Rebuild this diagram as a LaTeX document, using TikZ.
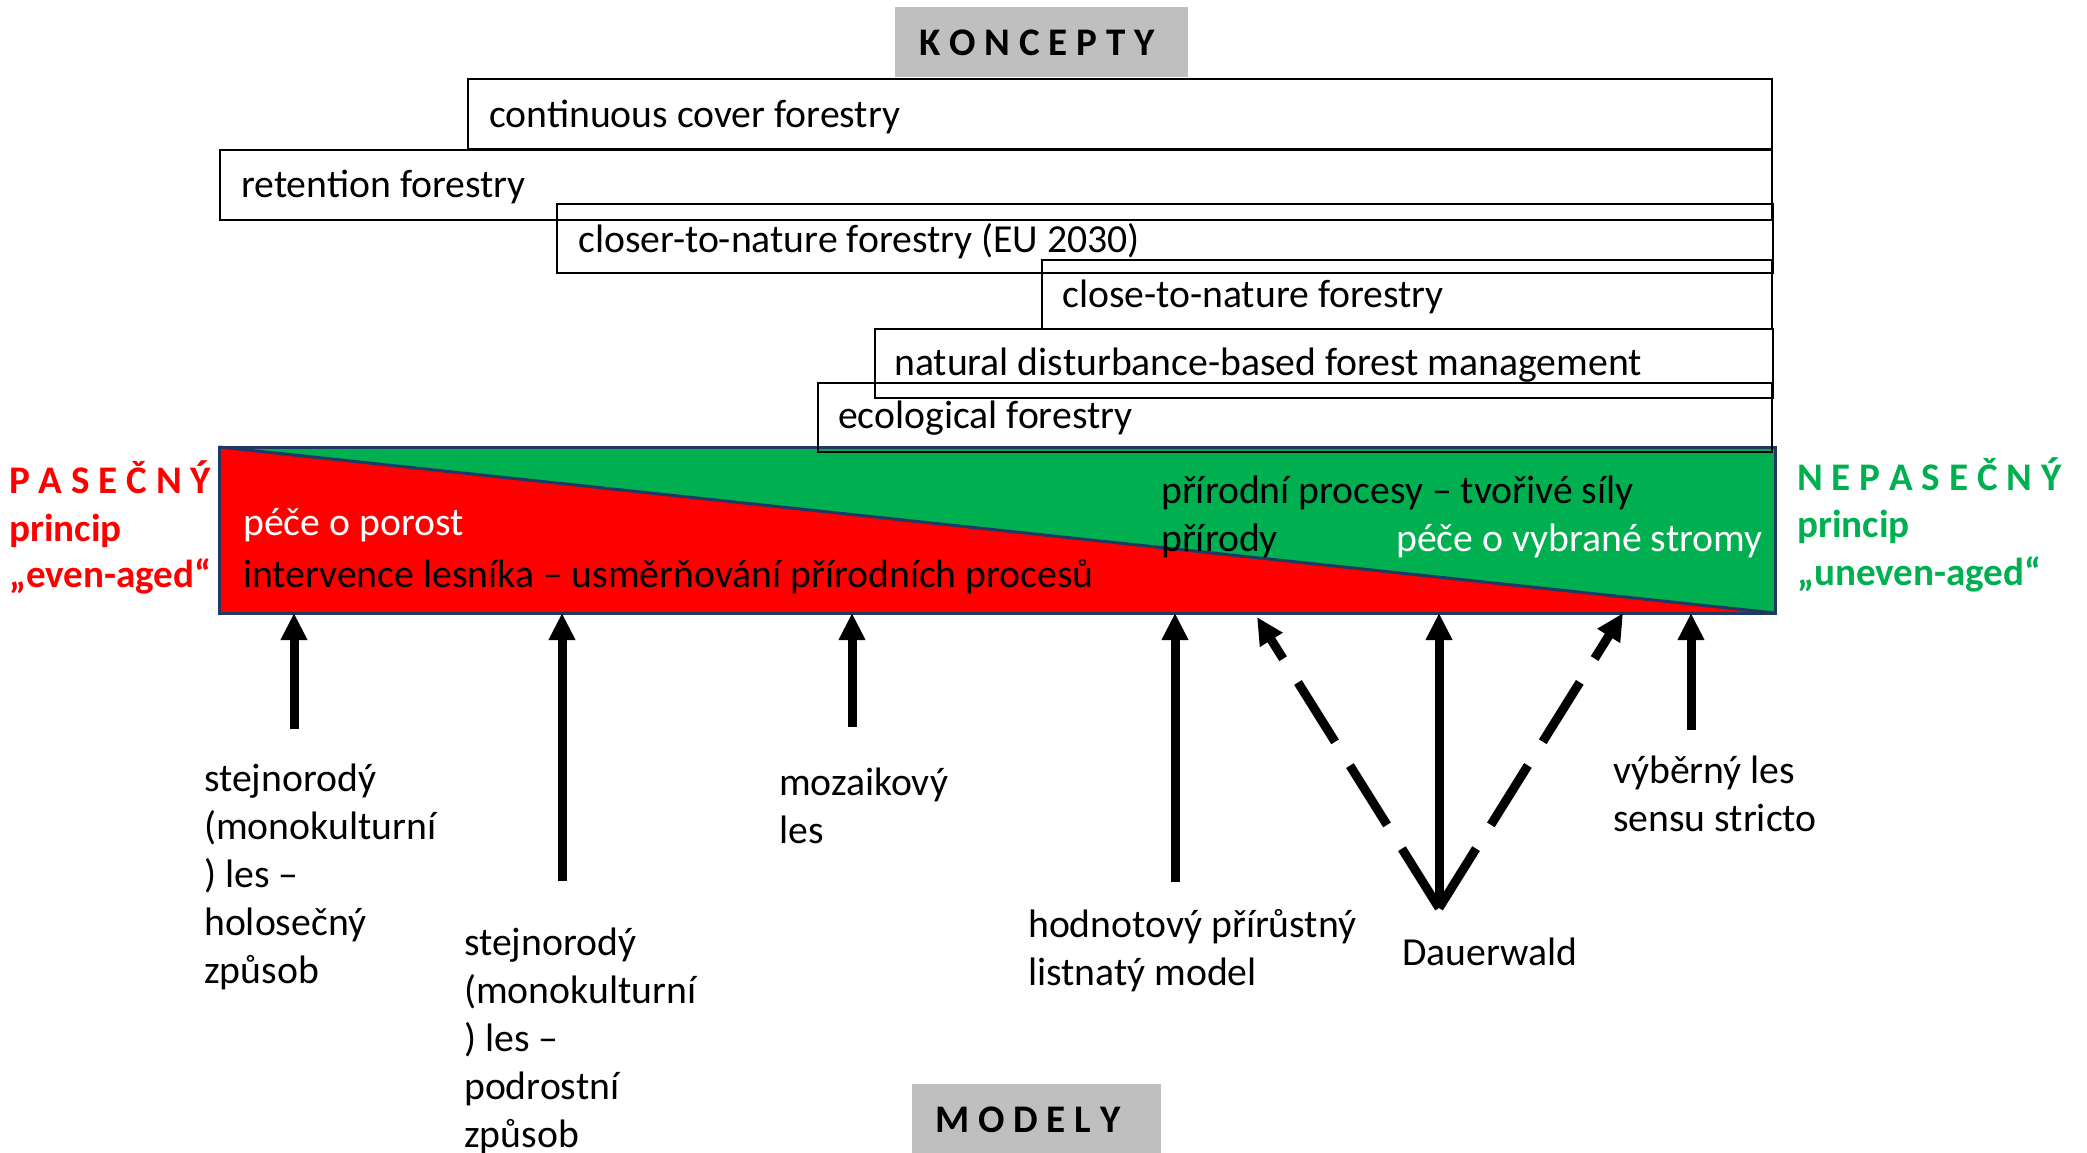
\documentclass[tikz,border=0pt]{standalone}
\usepackage{fontspec}
\setmainfont{Carlito}
\usetikzlibrary{arrows.meta}
\definecolor{cutred}{HTML}{FF0000}
\definecolor{covergreen}{HTML}{00B050}
\definecolor{bandnavy}{HTML}{1F3864}
\definecolor{headgray}{HTML}{BFBFBF}
% left-aligned lines whose baseline is the first line's
\newcommand{\linesleft}[1]{\vtop{\halign{##\hfil\cr#1\crcr}}}
\begin{document}
\begin{tikzpicture}[x=1pt,y=-1pt,
  txt/.style={inner sep=0pt, anchor=base west, font=\fontsize{39.7}{48}\selectfont},
  head/.style={txt, font=\fontsize{39.1}{48}\selectfont\bfseries},
  cbox/.style={draw=black, line width=2.5pt, anchor=north west, inner sep=0pt, outer sep=0pt},
  graybox/.style={fill=headgray, anchor=north west, inner sep=0pt, outer sep=0pt},
  model/.style={line width=9pt, -{Triangle[length=27pt,width=25pt]}},
  modeldash/.style={model, dash pattern=on 70pt off 28pt},
]
\useasboundingbox (0,0) rectangle (2087,1152);

% headings
\node[graybox, minimum width=293pt, minimum height=70pt] (konbox) at (895,7) {};
\node[head] (kon) at (919,55) {K O N C E P T Y};
\node[graybox, minimum width=249pt, minimum height=80pt] (modbox) at (912,1084) {};
\node[head] (mod) at (935,1132) {M O D E L Y};

% gradient band: clear-cut (red) to continuous cover (green)
\node[minimum width=1556pt, minimum height=166pt, anchor=north west, inner sep=0pt, outer sep=0pt] (band) at (219,447) {};
\fill[cutred] (band.north west) -- (band.south east) -- (band.south west) -- cycle;
\fill[covergreen] (band.north west) -- (band.north east) -- (band.south east) -- cycle;
\draw[bandnavy, line width=3pt] (band.north west) -- (band.south east);
\draw[bandnavy, line width=3pt] (band.north west) rectangle (band.south east);

\node[txt, text=white] (pecep) at (243,535) {péče o porost};
\node[txt] (interv) at (243,587) {intervence lesníka – usměrňování přírodních procesů};
\node[txt] (procesy) at (1161,503) {\linesleft{přírodní procesy – tvořivé síly\cr přírody}};
\node[txt, text=white] (pecest) at (1396,551) {péče o vybrané stromy};

% concepts
\node[cbox, minimum width=1304pt, minimum height=70pt] (ccf) at (468,79) {};
\node[txt] (ccft) at (489,127) {continuous cover forestry};
\node[cbox, minimum width=1552pt, minimum height=70pt] (ret) at (220,150) {};
\node[txt] (rett) at (241,197) {retention forestry};
\node[cbox, minimum width=1216pt, minimum height=69pt] (ctn) at (557,204) {};
\node[txt] (ctnt) at (578,252) {closer-to-nature forestry (EU 2030)};
\node[cbox, minimum width=730pt, minimum height=69pt] (cln) at (1042,260) {};
\node[txt] (clnt) at (1062,307) {close-to-nature forestry};
\node[cbox, minimum width=898pt, minimum height=69pt] (ndb) at (875,329) {};
\node[txt] (ndbt) at (894,375) {natural disturbance-based forest management};
\node[cbox, minimum width=954pt, minimum height=69pt] (eco) at (818,383) {};
\node[txt] (ecot) at (838,428) {ecological forestry};

% principles
\node[head, text=cutred] (pas) at (9,493) {P A S E Č N Ý};
\node[head, text=cutred] (pasp) at (9,541) {princip};
\node[head, text=cutred] (pase) at (9,587) {„even-aged“};
\node[head, text=covergreen] (nep) at (1797,490) {N E P A S E Č N Ý};
\node[head, text=covergreen] (nepp) at (1797,537) {princip};
\node[head, text=covergreen] (nepu) at (1797,585) {„uneven-aged“};

% models
\node[txt] (m1) at (204,791) {\linesleft{stejnorodý\cr (monokulturní\cr ) les –\cr holosečný\cr způsob}};
\node[txt] (m2) at (464,955) {\linesleft{stejnorodý\cr (monokulturní\cr ) les –\cr podrostní\cr způsob}};
\node[txt] (m3) at (779,795) {\linesleft{mozaikový\cr les}};
\node[txt] (m4) at (1028,937) {\linesleft{hodnotový přírůstný\cr listnatý model}};
\node[txt] (m5) at (1402,965) {Dauerwald};
\node[txt] (m6) at (1613,783) {\linesleft{výběrný les\cr sensu stricto}};

\coordinate (a1) at (294,729);   \coordinate (b1) at (294,613);
\coordinate (a2) at (562,881);   \coordinate (b2) at (562,613);
\coordinate (a3) at (852,727);   \coordinate (b3) at (852,613);
\coordinate (a4) at (1175,882);  \coordinate (b4) at (1175,613);
\coordinate (a6) at (1691,730);  \coordinate (b6) at (1691,613);
\coordinate (dw) at (1439,908);
\coordinate (dwl) at (1257,617);
\coordinate (dwm) at (1439,613);
\coordinate (dwr) at (1623,613);

\draw[model] (a1) -- (b1);
\draw[model] (a2) -- (b2);
\draw[model] (a3) -- (b3);
\draw[model] (a4) -- (b4);
\draw[model] (a6) -- (b6);
\draw[model] (dw) -- (dwm);
\draw[modeldash] (dw) -- (dwl);
\draw[modeldash] (dw) -- (dwr);
\end{tikzpicture}
\end{document}
